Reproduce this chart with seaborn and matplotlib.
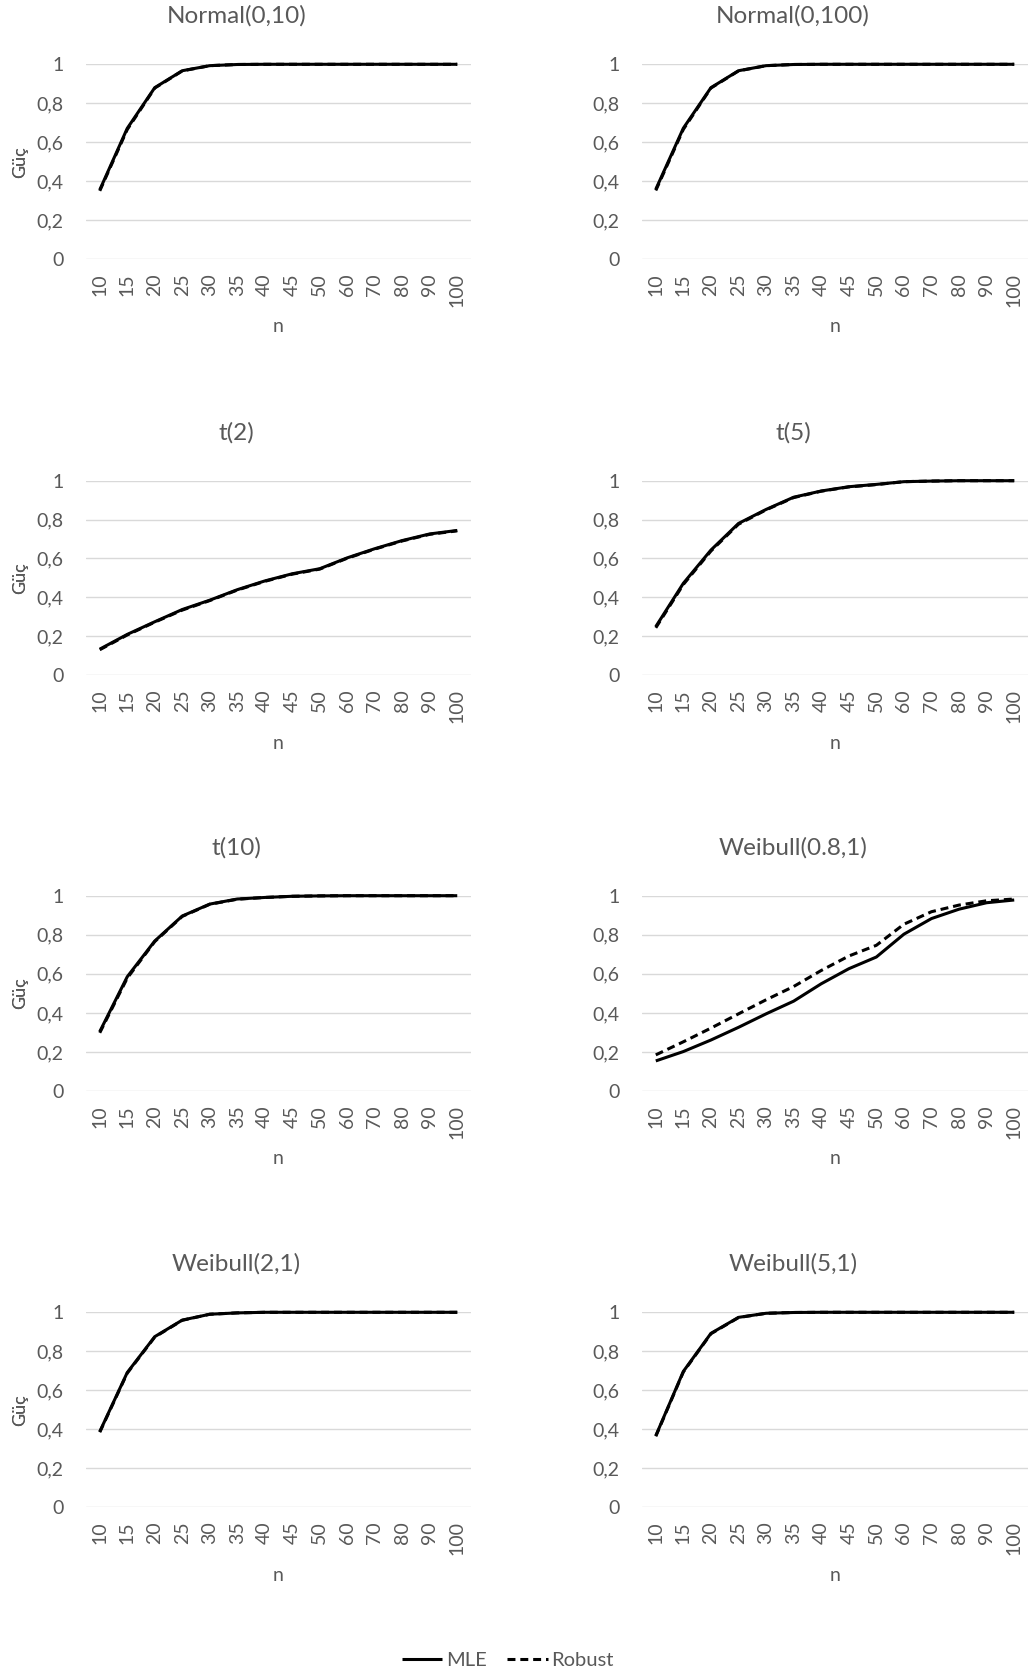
import numpy as np
import pandas as pd
import matplotlib
matplotlib.use("Agg")
import matplotlib.pyplot as plt
from matplotlib.lines import Line2D
import seaborn as sns

# ---------------- data ----------------
n_labels = ["10", "15", "20", "25", "30", "35", "40", "45", "50", "60", "70", "80", "90", "100"]

titles = ["Normal(0,10)", "Normal(0,100)", "t(2)", "t(5)", "t(10)",
          "Weibull(0.8,1)", "Weibull(2,1)", "Weibull(5,1)"]

normal10_mle = [0.355, 0.671, 0.880, 0.967, 0.993, 0.999, 1, 1, 1, 1, 1, 1, 1, 1]
normal10_rob = [0.350, 0.665, 0.878, 0.966, 0.993, 0.999, 1, 1, 1, 1, 1, 1, 1, 1]
normal100_mle = [0.358, 0.672, 0.880, 0.967, 0.993, 0.999, 1, 1, 1, 1, 1, 1, 1, 1]
normal100_rob = [0.352, 0.666, 0.878, 0.966, 0.993, 0.999, 1, 1, 1, 1, 1, 1, 1, 1]
t2_mle = [0.133, 0.209, 0.274, 0.337, 0.385, 0.439, 0.484, 0.521, 0.547, 0.603, 0.650, 0.692, 0.726, 0.744]
t2_rob = [0.130, 0.206, 0.272, 0.334, 0.383, 0.437, 0.482, 0.519, 0.545, 0.601, 0.648, 0.690, 0.724, 0.742]
t5_mle = [0.249, 0.472, 0.643, 0.780, 0.852, 0.915, 0.947, 0.969, 0.981, 0.995, 0.998, 1, 1, 1]
t5_rob = [0.243, 0.466, 0.638, 0.776, 0.850, 0.913, 0.946, 0.968, 0.980, 0.995, 0.998, 1, 1, 1]
t10_mle = [0.304, 0.585, 0.768, 0.896, 0.957, 0.983, 0.991, 0.997, 0.999, 1, 1, 1, 1, 1]
t10_rob = [0.298, 0.578, 0.765, 0.894, 0.956, 0.982, 0.991, 0.997, 0.999, 1, 1, 1, 1, 1]
w08_mle = [0.154, 0.202, 0.261, 0.326, 0.395, 0.460, 0.549, 0.626, 0.686, 0.803, 0.883, 0.931, 0.964, 0.978]
w08_rob = [0.185, 0.252, 0.322, 0.395, 0.467, 0.535, 0.617, 0.691, 0.746, 0.854, 0.918, 0.952, 0.974, 0.983]
w2_mle = [0.388, 0.691, 0.875, 0.960, 0.990, 0.997, 1, 1, 1, 1, 1, 1, 1, 1]
w2_rob = [0.385, 0.688, 0.873, 0.959, 0.990, 0.997, 1, 1, 1, 1, 1, 1, 1, 1]
w5_mle = [0.367, 0.697, 0.892, 0.974, 0.995, 0.999, 1, 1, 1, 1, 1, 1, 1, 1]
w5_rob = [0.364, 0.694, 0.890, 0.973, 0.995, 0.999, 1, 1, 1, 1, 1, 1, 1, 1]

series = [(normal10_mle, normal10_rob), (normal100_mle, normal100_rob),
          (t2_mle, t2_rob), (t5_mle, t5_rob), (t10_mle, t10_rob),
          (w08_mle, w08_rob), (w2_mle, w2_rob), (w5_mle, w5_rob)]
methods = ["MLE", "Robust"]
y_ticks = [0, 0.2, 0.4, 0.6, 0.8, 1]
y_ticklabels = ["0", "0,2", "0,4", "0,6", "0,8", "1"]

# ---------------- style ----------------
sns.set_theme(style="white")
plt.rcParams["font.family"] = ["Lato", "DejaVu Sans"]
TXT = "#595959"
GRID = "#D9D9D9"

W, H = 1030, 1675
fig = plt.figure(figsize=(W / 100, H / 100), dpi=100)

col_x = [(86, 471), (642, 1028)]
row_y = [(64.3, 259), (480.7, 675), (895.7, 1091), (1312.3, 1507.3)]

dash_map = {"MLE": "", "Robust": (2.6, 1.6)}
LW = 2.2

for i, (title, (mle, rob)) in enumerate(zip(titles, series)):
    r, c = divmod(i, 2)
    x0, x1 = col_x[c]
    yt, yb = row_y[r]
    ax = fig.add_axes([x0 / W, 1 - yb / H, (x1 - x0) / W, (yb - yt) / H])
    df = pd.DataFrame({
        "n": n_labels * 2,
        "power": list(mle) + list(rob),
        "method": ["MLE"] * len(n_labels) + ["Robust"] * len(n_labels),
    })
    sns.lineplot(data=df, x="n", y="power", style="method", style_order=["Robust", "MLE"],
                 dashes=dash_map, color="black", linewidth=LW, ax=ax, legend=False,
                 sort=False)
    for ln in ax.lines:
        ln.set_clip_on(False)
        ln.set_solid_capstyle("butt")
        ln.set_dash_capstyle("butt")
    ax.set_xlim(-0.5, len(n_labels) - 0.5)
    ax.set_ylim(0, 1)
    ax.set_yticks(y_ticks)
    ax.set_yticklabels(y_ticklabels)
    ax.set_xticks(range(len(n_labels)))
    ax.set_xticklabels(n_labels, rotation=90)
    ax.tick_params(axis="both", length=0, labelsize=14, colors=TXT)
    ax.tick_params(axis="y", pad=16)
    ax.tick_params(axis="x", pad=10)
    for s in ax.spines.values():
        s.set_visible(False)
    ax.grid(axis="y", color=GRID, linewidth=1.0)
    ax.grid(axis="x", visible=False)
    ax.set_axisbelow(True)
    ax.set_xlabel("n", fontsize=14, color=TXT)
    ax.set_ylabel("Güç", fontsize=13, color=TXT)
    ax.yaxis.set_label_coords(-(x0 - 20) / (x1 - x0), 0.5)
    ax.xaxis.set_label_coords(0.5, -68 / (yb - yt))
    ax.xaxis.label.set_va("center")
    ax.yaxis.label.set_va("center")
    fig.text((x0 + x1) / 2 / W - 42 / W, 1 - (yt - 48) / H, title,
             ha="center", va="center", fontsize=17.5, color=TXT)

handles = [Line2D([], [], color="black", lw=LW, solid_capstyle="butt"),
           Line2D([], [], color="black", lw=LW, dashes=dash_map["Robust"], dash_capstyle="butt")]
fig.legend(handles, methods, loc="center", bbox_to_anchor=(508 / W, 1 - 1660 / H),
           ncol=2, frameon=False, fontsize=14.5, labelcolor=TXT, handlelength=2.0,
           handletextpad=0.2, columnspacing=1.0)

fig.savefig("out.png", dpi=100, facecolor="white")
